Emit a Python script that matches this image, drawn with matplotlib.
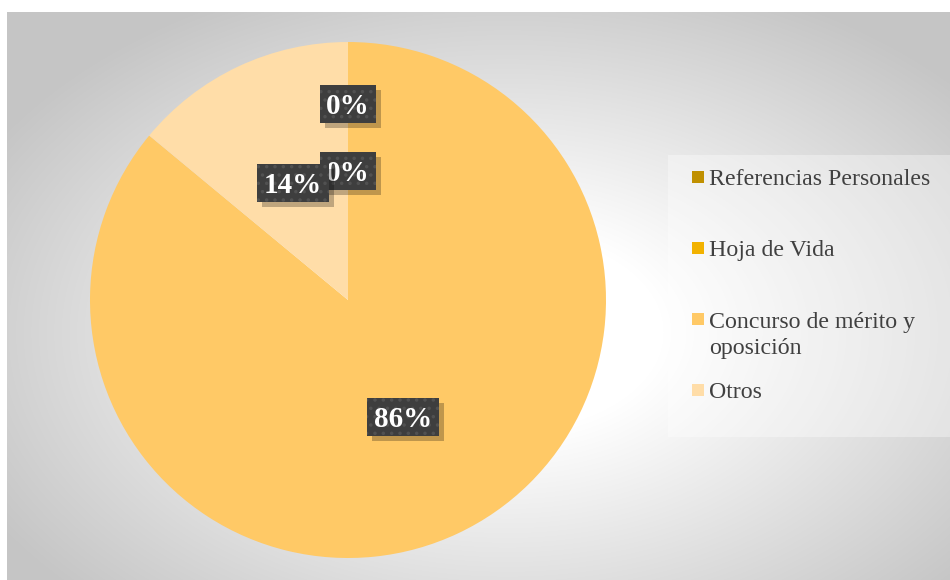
import matplotlib.pyplot as plt
from matplotlib.patches import Rectangle
from matplotlib.transforms import ScaledTranslation
import numpy as np

categories = ['Referencias Personales', 'Hoja de Vida',
              'Concurso de mérito y\noposición', 'Otros']
values = [0, 0, 86, 14]
colors = ['#C09000', '#F2B200', '#FFC966', '#FFDDA8']

plt.rcParams['font.family'] = ['Liberation Serif', 'DejaVu Serif']
plt.rcParams['hatch.linewidth'] = 1.3

fig = plt.figure(figsize=(9.5, 5.8), dpi=100)
W, H = 950, 580

# chart area background: radial grey gradient
bg = fig.add_axes([7 / W, 0, 943 / W, 568 / H])
yy, xx = np.mgrid[0:568, 0:943]
cx, cy = 500, 320
d = np.sqrt(((xx - cx) / 520.0) ** 2 + ((yy - cy) / 330.0) ** 2)
t = np.clip((d - 0.3) / 0.85, 0, 1)
shade = (255 - 58 * t) / 255.0
bg.imshow(np.dstack([shade] * 3), aspect='auto', interpolation='bilinear')
bg.set_axis_off()

# pie
ax = fig.add_axes([90 / W, 22 / H, 516 / W, 516 / H])
wedges, _ = ax.pie(values, colors=colors, startangle=90, counterclock=False,
                   radius=1, wedgeprops=dict(linewidth=0))
ax.set_xlim(-1, 1)
ax.set_ylim(-1, 1)
ax.set_aspect('equal')
ax.set_axis_off()

# data labels: dark dotted box with a drop shadow
px = 2 / 516  # data units per pixel in the pie axes
renderer = fig.canvas.get_renderer()
text_tr = ax.transData + ScaledTranslation(0, -10 / 100, fig.dpi_scale_trans)
total = sum(values)
dist = [0.76, 0.5, 0.5, 0.5]
for i, (w, v, r) in enumerate(zip(wedges, values, dist)):
    ang = np.deg2rad((w.theta1 + w.theta2) / 2)
    x, y = r * np.cos(ang), r * np.sin(ang)
    txt = ax.text(x, y, f'{v / total:.0%}', ha='center', va='baseline',
                  fontsize=21, fontweight='bold', color='white',
                  transform=text_tr, zorder=6 + 3 * i)
    bw = (txt.get_window_extent(renderer).width + 13) * px
    bh = 38 * px
    ax.add_patch(Rectangle((x - bw / 2 + 5 * px, y - bh / 2 - 5 * px), bw, bh,
                           fc='black', ec='none', alpha=0.25, zorder=4 + 3 * i))
    ax.add_patch(Rectangle((x - bw / 2, y - bh / 2), bw, bh, fc='#3e3e3e',
                           ec='#515151', lw=0, hatch='..', zorder=5 + 3 * i))

# legend panel
fig.patches.append(Rectangle((668 / W, 1 - 437 / H), 282 / W, 282 / H,
                             transform=fig.transFigure, fc='white', ec='none',
                             alpha=0.35, zorder=1))
rows = [177, 248, 319, 389.5]
for lab, col, y in zip(categories, colors, rows):
    fig.patches.append(Rectangle((692 / W, 1 - (y + 6) / H), 12 / W, 12 / H,
                                 transform=fig.transFigure, fc=col, ec='none',
                                 zorder=2))
    # baseline of the last line sits 27 px below the one above it
    base = y + 8 + 27 * lab.count('\n')
    fig.text(709 / W, 1 - base / H, lab, ha='left', va='baseline',
             fontsize=17.2, color='#404040', linespacing=1.29, zorder=3)

fig.savefig('out.png', dpi=100)
